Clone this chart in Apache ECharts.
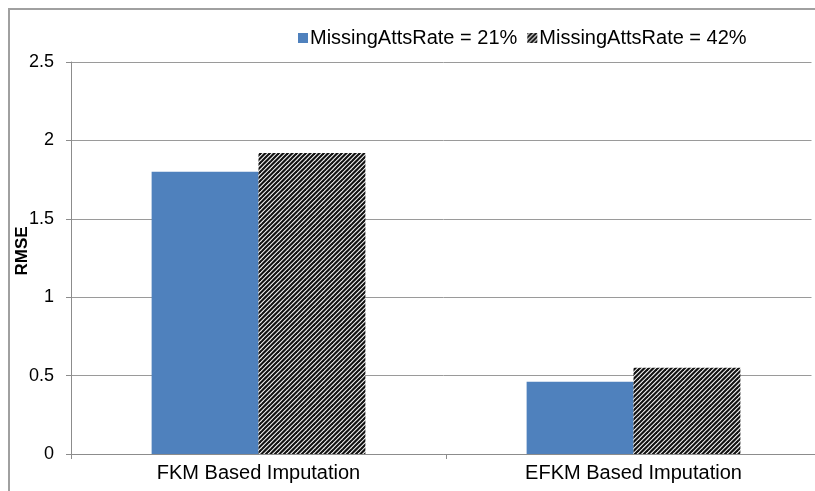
<!DOCTYPE html>
<html>
<head>
<meta charset="utf-8">
<script src="https://cdn.jsdelivr.net/npm/echarts@6/dist/echarts.min.js"></script>
<style>
  html, body { margin: 0; padding: 0; background: #fff; overflow: hidden; }
  #chart { width: 815px; height: 491px; }
</style>
</head>
<body>
<div id="chart"></div>
<script>
const categories = ['FKM Based Imputation', 'EFKM Based Imputation']
const seriesNames = ['MissingAttsRate = 21%', 'MissingAttsRate = 42%']
const rate21 = [1.8, 0.46]
const rate42 = [1.92, 0.55]

// hatch pattern like Excel's upward diagonal
const makeHatch = () => {
  const c = document.createElement('canvas')
  c.width = 9
  c.height = 9
  const ctx = c.getContext('2d')
  ctx.fillStyle = '#ffffff'
  ctx.fillRect(0, 0, 9, 9)
  ctx.strokeStyle = '#111111'
  ctx.lineWidth = 2.2
  for (let k = -9; k <= 18; k += 4.5) {
    ctx.beginPath()
    ctx.moveTo(k - 2, 11)
    ctx.lineTo(k + 11, -2)
    ctx.stroke()
  }
  return c
}
const hatch = { image: makeHatch(), repeat: 'repeat' }

const font = "'Liberation Sans', Arial, sans-serif"
const chart = echarts.init(document.getElementById('chart'))
const option = {
  animation: false,
  graphic: [
    {
      type: 'line',
      shape: { x1: 9, y1: 8, x2: 9, y2: 491 },
      style: { stroke: '#a0a0a0', lineWidth: 2 },
      silent: true
    },
    {
      type: 'line',
      shape: { x1: 8, y1: 9, x2: 815, y2: 9 },
      style: { stroke: '#a0a0a0', lineWidth: 2 },
      silent: true
    },
    {
      // mask for a stray edge line on the right
      type: 'rect',
      z: 100,
      shape: { x: 811.5, y: 10.5, width: 4, height: 442 },
      style: { fill: '#ffffff' },
      silent: true
    }
  ],
  legend: {
    left: 293,
    top: 23,
    itemWidth: 10,
    itemHeight: 10,
    itemGap: 10,
    icon: 'rect',
    textStyle: { fontFamily: font, fontSize: 20, color: '#000', padding: [0, 0, 0, -3] },
    data: seriesNames
  },
  grid: { left: 71, top: 62, bottom: 37, width: 750, outerBoundsMode: 'none' },
  xAxis: {
    type: 'category',
    data: categories,
    axisLine: { lineStyle: { color: '#8c8c8c', width: 1 } },
    axisTick: { show: true, length: 5, lineStyle: { color: '#8c8c8c' } },
    axisLabel: { fontFamily: font, fontSize: 20, color: '#000', margin: 9 },
    splitLine: { show: false }
  },
  yAxis: {
    type: 'value',
    min: 0,
    max: 2.5,
    interval: 0.5,
    name: 'RMSE',
    nameLocation: 'middle',
    nameGap: 40,
    nameMoveOverlap: false,
    nameRotate: 90,
    nameTextStyle: { fontFamily: font, fontSize: 17, fontWeight: 'bold', color: '#000', padding: [0, 0, 0, 14] },
    axisLine: { show: true, lineStyle: { color: '#8c8c8c', width: 1 } },
    axisTick: { show: true, length: 5, lineStyle: { color: '#8c8c8c' } },
    axisLabel: { fontFamily: font, fontSize: 18, color: '#000', margin: 17 },
    splitLine: { lineStyle: { color: '#9a9a9a', width: 1 } }
  },
  series: [
    {
      name: seriesNames[0],
      type: 'bar',
      data: rate21,
      barGap: '0%',
      barCategoryGap: '43%',
      itemStyle: { color: '#4F81BD' }
    },
    {
      name: seriesNames[1],
      type: 'bar',
      data: rate42,
      barGap: '0%',
      barCategoryGap: '43%',
      itemStyle: { color: hatch }
    }
  ]
}
chart.setOption(option)
</script>
</body>
</html>
